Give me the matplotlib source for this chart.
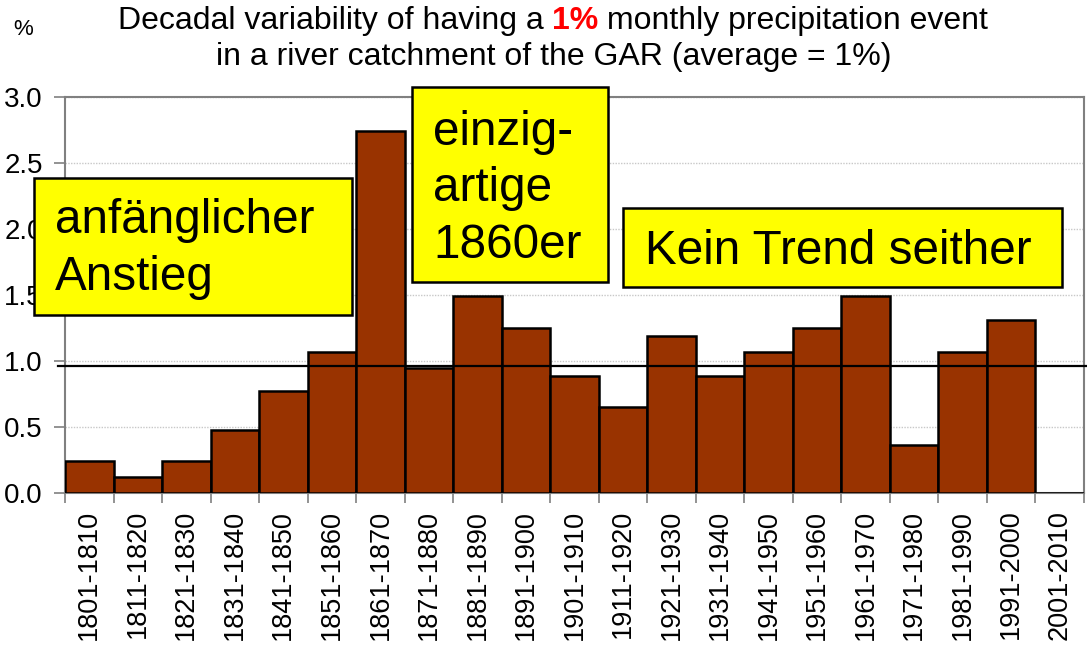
import numpy as np
import matplotlib
matplotlib.use("Agg")
import matplotlib.pyplot as plt
from matplotlib.patches import Rectangle

plt.rcParams['font.family'] = ['Liberation Sans', 'DejaVu Sans']

# decades and share of 1% monthly precipitation events (%)
decades = ["1801-1810", "1811-1820", "1821-1830", "1831-1840", "1841-1850",
           "1851-1860", "1861-1870", "1871-1880", "1881-1890", "1891-1900",
           "1901-1910", "1911-1920", "1921-1930", "1931-1940", "1941-1950",
           "1951-1960", "1961-1970", "1971-1980", "1981-1990", "1991-2000",
           "2001-2010"]
values = [0.24, 0.12, 0.24, 0.48, 0.77, 1.07, 2.74, 0.95, 1.49, 1.25,
          0.89, 0.65, 1.19, 0.89, 1.07, 1.25, 1.49, 0.36, 1.07, 1.31, 0.0]
average = 0.964

W, H = 1087, 648
fig = plt.figure(figsize=(W / 100, H / 100), dpi=100)
ax = fig.add_axes([65 / W, 1 - 493 / H, (1084 - 65) / W, (493 - 97) / H])

x = np.arange(len(decades))
ax.bar(x, values, width=1.0, color='#993300', edgecolor='black', linewidth=1.8, zorder=3)
ax.axhline(average, xmin=-0.007, xmax=1.01, color='black', linewidth=1.6, clip_on=False, zorder=4)

ax.set_xlim(-0.5, len(decades) - 0.5)
ax.set_ylim(0, 3.0)
ax.set_yticks(np.arange(0, 3.01, 0.5))
ax.set_yticklabels([f"{v:.1f}" for v in np.arange(0, 3.01, 0.5)], fontsize=20)
ax.yaxis.grid(True, color='#c8c8c8', linestyle=(0, (1, 1)), linewidth=1.0)
ax.set_axisbelow(True)

ax.set_xticks(x)
ax.set_xticklabels(decades, rotation=90, fontsize=19.5)
ax.set_xticks(np.arange(-0.5, len(decades), 1.0), minor=True)
ax.tick_params(axis='x', which='major', length=0, pad=12)
ax.tick_params(axis='x', which='minor', length=7, color='#808080', width=1.2)
ax.tick_params(axis='y', length=8, color='#808080', width=1.2, pad=8)

for s in ax.spines.values():
    s.set_color('#808080')
    s.set_linewidth(1.5)

# percent unit label
fig.text(23 / W, 1 - 35 / H, "%", fontsize=16, ha='center', va='baseline')

# title, first line with red highlight
fig.canvas.draw()
r = fig.canvas.get_renderer()
parts = [("Decadal variability of having a ", 'black', 'normal'),
         ("1%", '#ff0000', 'bold'),
         (" monthly precipitation event", 'black', 'normal')]
texts = []
for s, c, w in parts:
    t = fig.text(0, 1 - 29 / H, s, fontsize=23, color=c, fontweight=w, va='baseline', ha='left')
    texts.append(t)
widths = [t.get_window_extent(r).width for t in texts]
xpos = 553 - sum(widths) / 2
for t, wd in zip(texts, widths):
    t.set_x(xpos / W)
    xpos += wd
fig.text(554 / W, 1 - 65 / H, "in a river catchment of the GAR (average = 1%)",
         fontsize=23, ha='center', va='baseline')

# yellow comment boxes, one text line per baseline
boxes = [((34, 178, 352, 315), 55, ["anfänglicher", "Anstieg"], [233, 290]),
         ((412, 87, 608, 282), 433, ["einzig-", "artige", "1860er"], [145, 201, 258]),
         ((623, 208, 1062, 287), 645, ["Kein Trend seither"], [264])]
for (x0, y0, x1, y1), tx, lines, baselines in boxes:
    fig.patches.append(Rectangle((x0 / W, 1 - y1 / H), (x1 - x0) / W, (y1 - y0) / H,
                                 transform=fig.transFigure, facecolor='#ffff00',
                                 edgecolor='black', linewidth=1.8, zorder=10))
    for line, by in zip(lines, baselines):
        fig.text(tx / W, 1 - by / H, line, fontsize=34.3, ha='left', va='baseline', zorder=11)

fig.savefig("out.png", dpi=100)
